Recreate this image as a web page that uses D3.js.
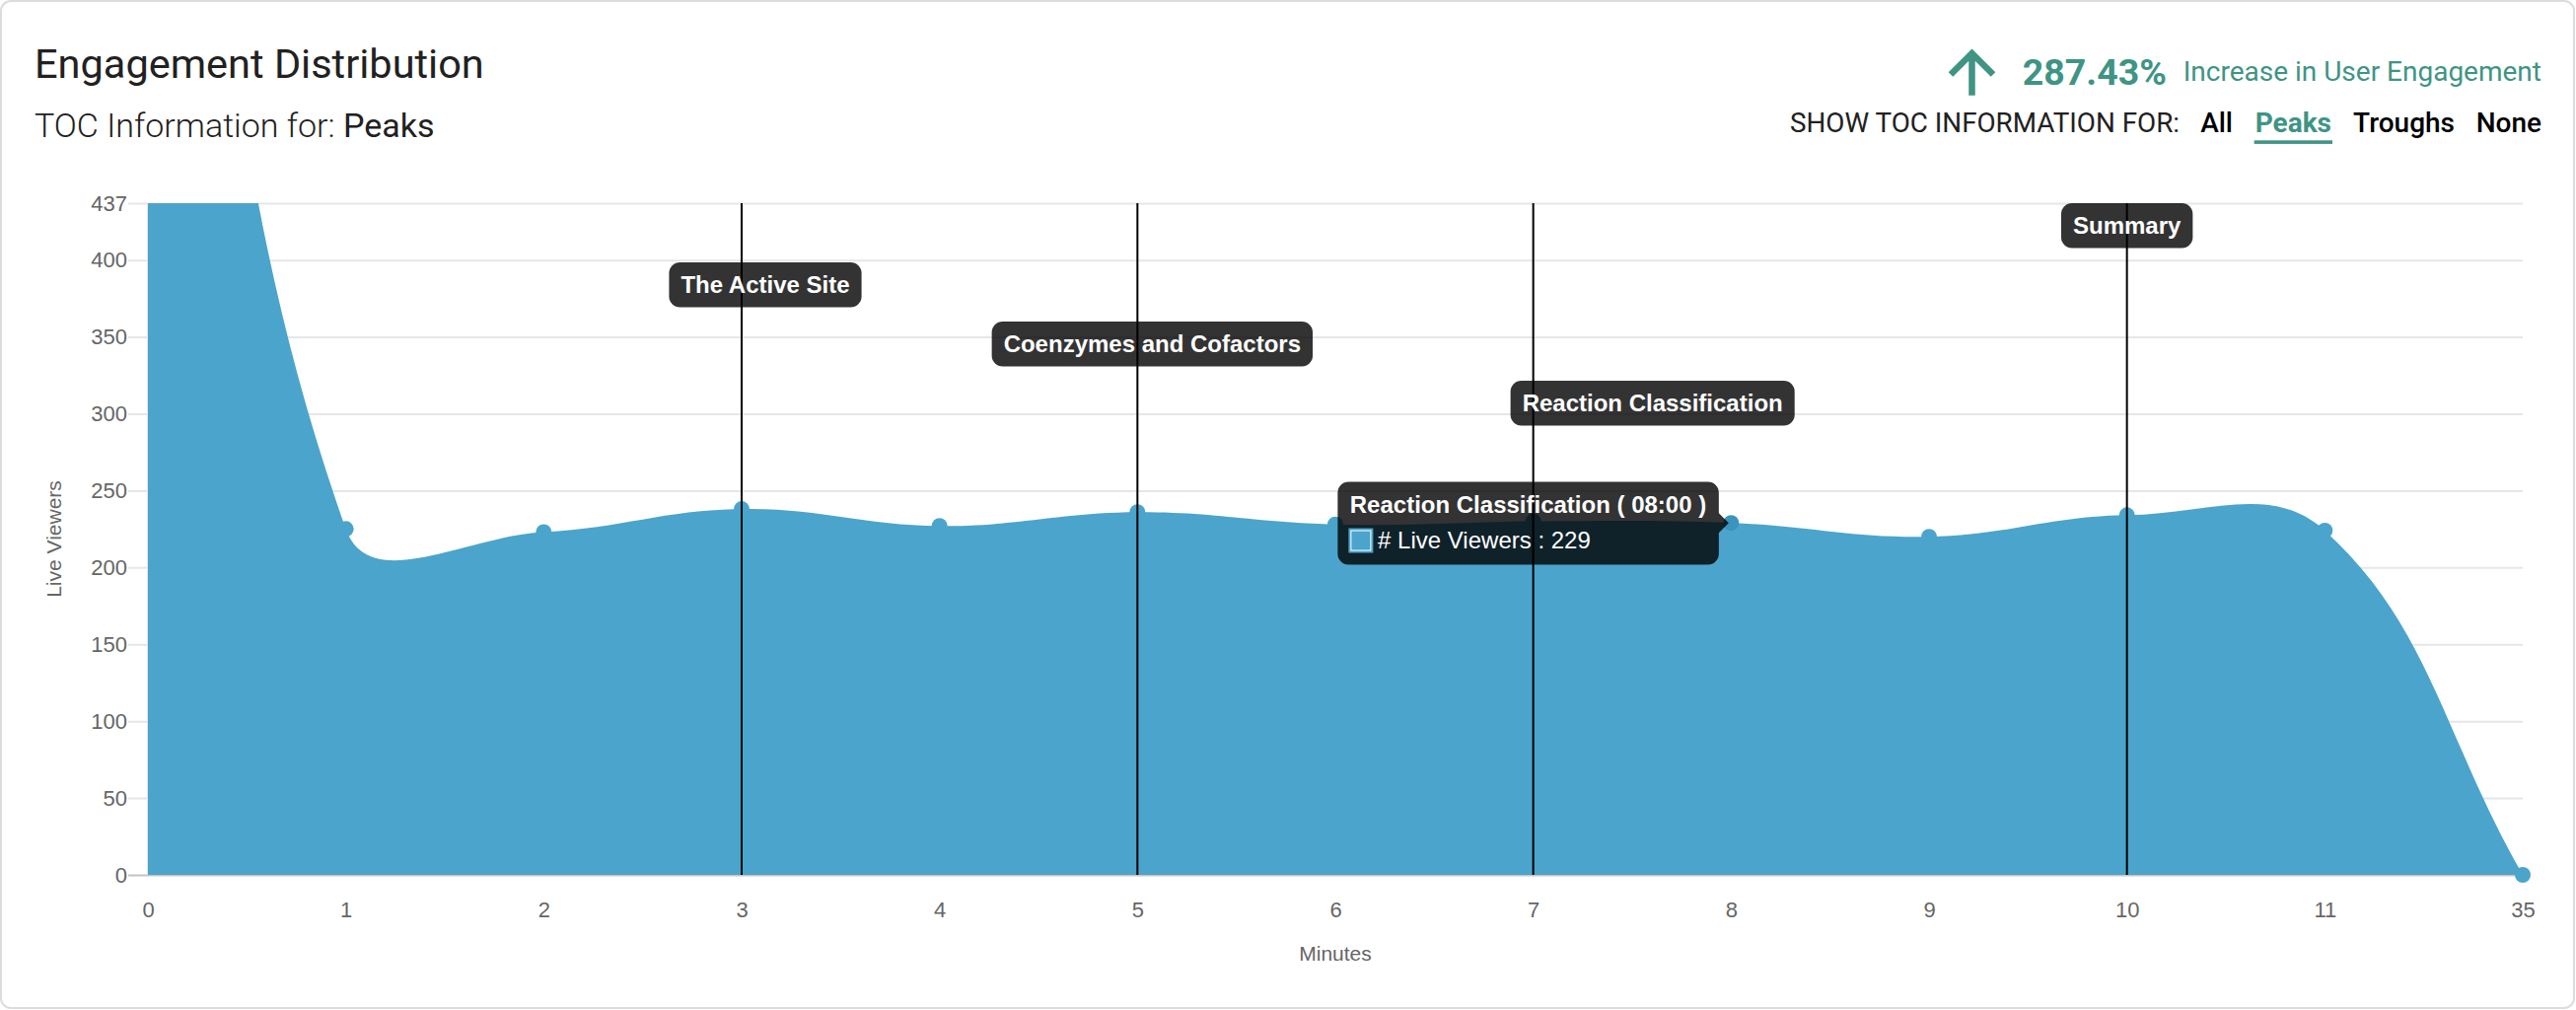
<!DOCTYPE html>
<html>
<head>
<meta charset="utf-8">
<script src="https://cdn.jsdelivr.net/npm/d3@7"></script>
<style>
  body { margin: 0; background: #fff; }
  svg { display: block; }
</style>
</head>
<body>
<svg id="chart"></svg>
<script>
// chart data
const minutes = ['0', '1', '2', '3', '4', '5', '6', '7', '8', '9', '10', '11', '35'];
const liveViewers = [950, 225, 223, 238, 227, 236, 228, 230, 229, 220, 234, 224, 0];
const yTicks = [0, 50, 100, 150, 200, 250, 300, 350, 400, 437];
const tocMinutes = ['3', '5', '7', '10'];
const tocTitles = ['The Active Site', 'Coenzymes and Cofactors', 'Reaction Classification', 'Summary'];
const tocFilters = ['All', 'Peaks', 'Troughs', 'None'];
const increasePct = '287.43%';
const hoverMinute = '8';
const hoverTitle = 'Reaction Classification';

// label layout (stagger level and horizontal nudge of each toc label)
const labelLevel = [1, 2, 3, 0];
const labelShift = [24, 15, 121, 0];

const TEAL = '#3f9484';
const BLUE = '#4ba4cb';
const TICK_FONT = '"Liberation Sans", Arial, sans-serif';

// chart.js style spline (tension 0.4, computed in pixel space)
function ChartSpline(context, tension) {
    this._context = context;
    this._tension = tension;
}
ChartSpline.prototype = {
    areaStart: function() { this._line = 0; },
    areaEnd: function() { this._line = NaN; },
    lineStart: function() { this._points = []; },
    point: function(x, y) { this._points.push([+x, +y]); },
    lineEnd: function() {
        let p = this._points, n = p.length, t = this._tension, ctx = this._context;
        if (n) {
            if (this._line) ctx.lineTo(p[0][0], p[0][1]);
            else ctx.moveTo(p[0][0], p[0][1]);
            let cp = p.map((cur, i) => {
                let prev = p[i - 1] || cur, next = p[i + 1] || cur;
                let d01 = Math.hypot(cur[0] - prev[0], cur[1] - prev[1]);
                let d12 = Math.hypot(next[0] - cur[0], next[1] - cur[1]);
                let s = (d01 + d12) || 1;
                let fa = t * d01 / s, fb = t * d12 / s;
                return [cur[0] - fa * (next[0] - prev[0]), cur[1] - fa * (next[1] - prev[1]),
                        cur[0] + fb * (next[0] - prev[0]), cur[1] + fb * (next[1] - prev[1])];
            });
            for (let i = 1; i < n; i++) {
                ctx.bezierCurveTo(cp[i - 1][2], cp[i - 1][3], cp[i][0], cp[i][1], p[i][0], p[i][1]);
            }
        }
        if (this._line || (this._line !== 0 && n === 1)) ctx.closePath();
        this._line = 1 - this._line;
    }
};
const curveChartSpline = context => new ChartSpline(context, 0.4);

class AreaChart {

    constructor(config, data) {
        this.config = {
            parent: config.parent,
            width: config.width || 2612,
            height: config.height || 1024,
            margin: config.margin || { top: 206, right: 54, bottom: 137, left: 150 },
        };
        this.data = data;
        this.init();
    }

    init() {
        let self = this;

        self.svg = d3.select(self.config.parent)
            .attr('width', self.config.width)
            .attr('height', self.config.height);

        // card
        self.svg.append('rect')
            .attr('x', 1).attr('y', 1)
            .attr('width', self.config.width - 3)
            .attr('height', self.config.height - 3)
            .attr('rx', 10)
            .attr('fill', '#fff')
            .attr('stroke', '#dcdcdc')
            .attr('stroke-width', 2);

        let margin = self.config.margin;
        self.chart = self.svg.append('g')
            .attr('transform', `translate(${margin.left}, ${margin.top})`);

        self.inner_width = self.config.width - margin.left - margin.right;
        self.inner_height = self.config.height - margin.top - margin.bottom;

        self.xscale = d3.scalePoint()
            .domain(minutes)
            .range([0, self.inner_width]);

        self.yscale = d3.scaleLinear()
            .domain([0, d3.max(yTicks)])
            .range([self.inner_height, 0]);

        self.svg.append('defs').append('clipPath')
            .attr('id', 'plot-clip')
            .append('rect')
            .attr('width', self.inner_width)
            .attr('height', self.inner_height);
    }

    render() {
        let self = this;
        let w = self.inner_width, h = self.inner_height;

        // y axis + gridlines
        let yaxis = d3.axisLeft(self.yscale)
            .tickValues(yTicks)
            .tickSizeInner(-w)
            .tickSizeOuter(0)
            .tickPadding(21);
        let yg = self.chart.append('g').call(yaxis);
        yg.select('.domain').remove();
        yg.selectAll('.tick line')
            .attr('x1', -20)
            .attr('stroke', d => d === 0 ? '#c4c4c4' : '#e6e6e6')
            .attr('stroke-width', 2);
        yg.selectAll('.tick text')
            .attr('fill', '#666')
            .attr('font-size', 22)
            .attr('font-family', TICK_FONT);

        self.chart.append('line')
            .attr('x1', 0).attr('x2', 0)
            .attr('y1', 0).attr('y2', h + 0)
            .attr('stroke', '#e6e6e6')
            .attr('stroke-width', 2);

        // x axis
        let xaxis = d3.axisBottom(self.xscale)
            .tickSize(0)
            .tickPadding(27);
        let xg = self.chart.append('g')
            .attr('transform', `translate(0, ${h})`)
            .call(xaxis);
        xg.select('.domain').remove();
        xg.selectAll('.tick text')
            .attr('fill', '#666')
            .attr('font-size', 22)
            .attr('font-family', TICK_FONT);

        // axis titles
        self.chart.append('text')
            .attr('transform', `translate(${61.5 - self.config.margin.left}, ${h / 2}) rotate(-90)`)
            .attr('text-anchor', 'middle')
            .attr('fill', '#666')
            .attr('font-size', 21)
            .attr('font-family', TICK_FONT)
            .text('Live Viewers');

        self.chart.append('text')
            .attr('x', w / 2)
            .attr('y', h + 87)
            .attr('text-anchor', 'middle')
            .attr('fill', '#666')
            .attr('font-size', 21)
            .attr('font-family', TICK_FONT)
            .text('Minutes');

        // area
        let area = d3.area()
            .x(d => self.xscale(d.minute))
            .y0(self.yscale(0))
            .y1(d => self.yscale(d.value))
            .curve(curveChartSpline);

        self.chart.append('path')
            .datum(self.data)
            .attr('clip-path', 'url(#plot-clip)')
            .attr('fill', BLUE)
            .attr('d', area);

        // points (only those inside the plot)
        let ymax = self.yscale.domain()[1];
        self.chart.selectAll('circle.pt')
            .data(self.data.filter(d => d.value <= ymax))
            .enter()
            .append('circle')
            .attr('class', 'pt')
            .attr('cx', d => self.xscale(d.minute))
            .attr('cy', d => self.yscale(d.value))
            .attr('r', 8)
            .attr('fill', d => d.minute === hoverMinute ? '#3b94be' : BLUE);

        // toc lines
        self.chart.selectAll('line.toc')
            .data(tocMinutes)
            .enter()
            .append('line')
            .attr('class', 'toc')
            .attr('x1', d => self.xscale(d)).attr('x2', d => self.xscale(d))
            .attr('y1', 0).attr('y2', h)
            .attr('stroke', '#000')
            .attr('stroke-width', 2);

        // toc labels
        tocMinutes.forEach((m, i) => {
            let g = self.chart.append('g');
            let cx = self.xscale(m) + labelShift[i];
            let top = labelLevel[i] * 60;
            let rect = g.append('rect');
            let txt = g.append('text')
                .attr('x', cx)
                .attr('y', top + 30.5)
                .attr('text-anchor', 'middle')
                .attr('fill', '#fff')
                .attr('font-size', 24)
                .attr('font-weight', 'bold')
                .attr('font-family', TICK_FONT)
                .text(tocTitles[i]);
            let tw = txt.node().getComputedTextLength();
            rect.attr('x', cx - tw / 2 - 12)
                .attr('y', top)
                .attr('width', tw + 24)
                .attr('height', 45.5)
                .attr('rx', 11)
                .attr('fill', 'rgba(0,0,0,0.8)');
        });

        self.renderTooltip();
        self.renderHeader();
    }

    renderTooltip() {
        let self = this;
        let d = self.data.find(e => e.minute === hoverMinute);
        let ax = self.xscale(d.minute), ay = self.yscale(d.value);
        let title = `${hoverTitle} ( ${d.minute.padStart(2, '0')}:00 )`;
        let body = `# Live Viewers : ${d.value}`;

        let g = self.chart.append('g');
        let bg = g.append('path');
        let right = ax - 12.5, top = ay - 41.6;

        let t1 = g.append('text')
            .attr('y', top + 31.7)
            .attr('fill', '#fff')
            .attr('font-size', 24)
            .attr('font-weight', 'bold')
            .attr('font-family', TICK_FONT)
            .text(title);
        let t2 = g.append('text')
            .attr('y', top + 67.4)
            .attr('fill', '#fff')
            .attr('font-size', 24)
            .attr('font-family', TICK_FONT)
            .text(body);
        let tw = Math.max(t1.node().getComputedTextLength(), t2.node().getComputedTextLength() + 28.5);
        let bw = tw + 25, bh = 84;
        let left = right - bw;
        t1.attr('x', left + 12.4);
        t2.attr('x', left + 40.7);

        let p = d3.path(), r = 11;
        p.moveTo(left + r, top);
        p.lineTo(right - r, top);
        p.arcTo(right, top, right, top + r, r);
        p.lineTo(right, ay - 10);
        p.lineTo(right + 10, ay);
        p.lineTo(right, ay + 10);
        p.lineTo(right, top + bh - r);
        p.arcTo(right, top + bh, right - r, top + bh, r);
        p.lineTo(left + r, top + bh);
        p.arcTo(left, top + bh, left, top + bh - r, r);
        p.lineTo(left, top + r);
        p.arcTo(left, top, left + r, top, r);
        p.closePath();
        bg.attr('d', p.toString()).attr('fill', 'rgba(0,0,0,0.8)');

        // colour key
        g.append('rect')
            .attr('x', left + 12).attr('y', top + 48)
            .attr('width', 23).attr('height', 23)
            .attr('fill', '#fff')
            .attr('stroke', BLUE)
            .attr('stroke-width', 2);
        g.append('rect')
            .attr('x', left + 14).attr('y', top + 50)
            .attr('width', 19).attr('height', 19)
            .attr('fill', BLUE);
    }

    renderHeader() {
        let self = this;
        let hg = self.svg.append('g')
            .attr('font-family', 'Roboto, sans-serif');

        hg.append('text')
            .attr('x', 35).attr('y', 79)
            .attr('font-size', 41.5)
            .attr('fill', '#212121')
            .text('Engagement Distribution');

        let sub = hg.append('text')
            .attr('x', 35).attr('y', 139)
            .attr('font-size', 34)
            .attr('fill', '#212121');
        sub.append('tspan').attr('font-weight', 300).text('TOC Information for: ');
        sub.append('tspan').attr('font-weight', 400).text(tocFilters[1]);

        // increase indicator
        hg.append('path')
            .attr('d', 'M1999.5,96.7 V53 M1978,75.5 L1999.5,54 L2021,75.5')
            .attr('fill', 'none')
            .attr('stroke', TEAL)
            .attr('stroke-width', 6.5);

        hg.append('text')
            .attr('x', 2197).attr('y', 85.5)
            .attr('text-anchor', 'end')
            .attr('font-size', 37.5)
            .attr('font-weight', 700)
            .attr('fill', TEAL)
            .text(increasePct);

        hg.append('text')
            .attr('x', 2577).attr('y', 82)
            .attr('text-anchor', 'end')
            .attr('font-size', 28)
            .attr('fill', TEAL)
            .text('Increase in User Engagement');

        // filter row
        hg.append('text')
            .attr('x', 2210).attr('y', 133.5)
            .attr('text-anchor', 'end')
            .attr('font-size', 27.8)
            .attr('fill', '#212121')
            .text('SHOW TOC INFORMATION FOR:');

        const filterRight = [2264, 2364, 2489, 2577];
        tocFilters.forEach((f, i) => {
            let active = i === 1;
            let t = hg.append('text')
                .attr('x', filterRight[i]).attr('y', 133.5)
                .attr('text-anchor', 'end')
                .attr('font-size', 28)
                .attr('font-weight', active ? 700 : 500)
                .attr('fill', active ? TEAL : '#000')
                .text(f);
            if (active) {
                let tw = t.node().getComputedTextLength();
                hg.append('rect')
                    .attr('x', filterRight[i] - tw - 1)
                    .attr('y', 142.3)
                    .attr('width', tw + 2)
                    .attr('height', 3.6)
                    .attr('fill', TEAL);
            }
        });
    }
}

const rows = minutes.map((m, i) => ({ minute: m, value: liveViewers[i] }));
const chart = new AreaChart({ parent: '#chart', width: 2612, height: 1024 }, rows);
chart.render();
</script>
</body>
</html>
